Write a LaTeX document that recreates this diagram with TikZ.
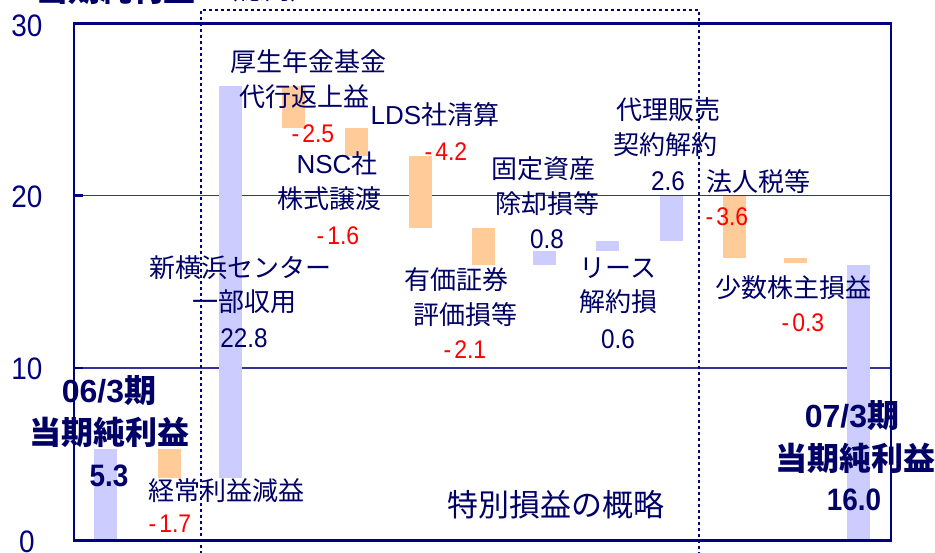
\documentclass[tikz,border=0pt]{standalone}
\usepackage{fontspec}
\setmainfont{Liberation Sans}
\newfontfamily\cjk{Noto Sans CJK JP}
\newfontfamily\numf[FakeStretch=0.9]{Liberation Sans}
\definecolor{navy}{RGB}{0,0,128}
\definecolor{txt}{RGB}{0,0,102}
\definecolor{gridc}{RGB}{51,51,153}
\definecolor{barb}{RGB}{204,204,255}
\definecolor{baro}{RGB}{255,204,153}
\definecolor{negc}{RGB}{255,0,0}
\newcommand{\mns}{-\kern3pt}
\tikzset{
  lbl/.style={font=\cjk\fontsize{26}{26}\selectfont, text=txt, inner sep=0pt},
  numlbl/.style={font=\numf\fontsize{27}{27}\selectfont, text=txt, inner sep=0pt},
  neglbl/.style={font=\numf\fontsize{25.5}{25.5}\selectfont, text=negc, inner sep=0pt},
  biglbl/.style={font=\bfseries\fontsize{32}{32}\selectfont, text=txt, inner sep=0pt},
  bignum/.style={font=\bfseries\numf\fontsize{31}{31}\selectfont, text=txt, inner sep=0pt},
  axlbl/.style={font=\numf\fontsize{31}{31}\selectfont, text=navy, inner sep=0pt},
  upbar/.style={fill=barb},
  downbar/.style={fill=baro},
  gridline/.style={draw=gridc, line width=1.3pt},
  frameline/.style={draw=navy, line width=2.2pt},
  dotbox/.style={draw=navy, line width=2.6pt, dash pattern=on 2.6pt off 3.4pt}
}
\begin{document}
\begin{tikzpicture}[x=1pt,y=-1pt]
\useasboundingbox (0,0) rectangle (935,552);
% grid lines
\draw[gridline] (74,195.5) -- (891,195.5);
\draw[gridline] (74,368) -- (891,368);
% bars
\fill[upbar]   (94,449)  rectangle (117,540);
\fill[downbar] (158,449) rectangle (181,478);
\fill[upbar]   (219,86)  rectangle (242,478);
\fill[downbar] (282,86)  rectangle (305,128);
\fill[downbar] (345,128) rectangle (368,156);
\fill[downbar] (409,156) rectangle (432,228);
\fill[downbar] (472,228) rectangle (495,265);
\fill[upbar]   (533,251) rectangle (556,265);
\fill[upbar]   (596,241) rectangle (619,251);
\fill[upbar]   (660,196) rectangle (683,241);
\fill[downbar] (723,196) rectangle (746,258);
\fill[downbar] (784,258) rectangle (807,263);
\fill[upbar]   (847,265) rectangle (870,540);
% frame
\draw[frameline, line width=3pt] (73,23) -- (892,23);
\draw[frameline, line width=3pt] (73,540) -- (892,540);
\draw[frameline] (74,23) -- (74,540);
\draw[frameline, line width=1.8pt] (891,23) -- (891,540);
\foreach \yy in {195.5,368} \draw[frameline] (74,\yy) -- (83,\yy);
% axis labels
\node[axlbl] (a30) at (27,26) {30};
\node[axlbl] (a20) at (27,197) {20};
\node[axlbl] (a10) at (27,369) {10};
\node[axlbl] (a0) at (27,542) {0};
% top title (clipped by the top edge, as in the reference)
\node[biglbl] (title) at (116,-11) {\cjk 当期純利益};
\node[lbl] (unit) at (264,-10) {（億円）};
% labels
\node[biglbl] (s1a) at (109,391) {06/3{\cjk 期}};
\node[biglbl] (s1b) at (110,432) {\cjk 当期純利益};
\node[bignum] (s1c) at (109,476) {5.3};
\node[lbl] (k1) at (226,491) {経常利益減益};
\node[neglbl] (k1v) at (170,524) {\mns1.7};
\node[lbl] (c1a) at (240,268) {新横浜センター};
\node[lbl] (c1b) at (244,302) {一部収用};
\node[numlbl] (c1v) at (244,338) {22.8};
\node[lbl] (d1a) at (308,62) {厚生年金基金};
\node[lbl] (d1b) at (304,97) {代行返上益};
\node[neglbl] (d1v) at (313,134) {\mns2.5};
\node[lbl] (d2a) at (337,164) {{\rmfamily NSC}社};
\node[lbl] (d2b) at (329,199) {株式譲渡};
\node[neglbl] (d2v) at (338,236) {\mns1.6};
\node[lbl] (d3a) at (435,115) {{\rmfamily LDS}社清算};
\node[neglbl] (d3v) at (446,152) {\mns4.2};
\node[lbl] (d4a) at (456,280) {有価証券};
\node[lbl] (d4b) at (465,315) {評価損等};
\node[neglbl] (d4v) at (465,350) {\mns2.1};
\node[lbl] (e1a) at (543,169) {固定資産};
\node[lbl] (e1b) at (547,204) {除却損等};
\node[numlbl] (e1v) at (547,239) {0.8};
\node[lbl] (e2a) at (618,268) {リース};
\node[lbl] (e2b) at (618,302) {解約損};
\node[numlbl] (e2v) at (618,339) {0.6};
\node[lbl] (e3a) at (668,110) {代理販売};
\node[lbl] (e3b) at (665,145) {契約解約};
\node[numlbl] (e3v) at (668,181) {2.6};
\node[lbl] (f1a) at (758,182) {法人税等};
\node[neglbl] (f1v) at (727,217) {\mns3.6};
\node[lbl] (f2a) at (793,288) {少数株主損益};
\node[neglbl] (f2v) at (803,323) {\mns0.3};
\node[lbl, font=\cjk\fontsize{31}{31}\selectfont] (sp) at (556,505) {特別損益の概略};
\node[biglbl] (s2a) at (852,416) {07/3{\cjk 期}};
\node[biglbl] (s2b) at (855,458) {\cjk 当期純利益};
\node[bignum] (s2c) at (854,500) {16.0};
% dotted box
\draw[dotbox] (201,560) -- (201,10) -- (699,10) -- (699,560);
\end{tikzpicture}
\end{document}
